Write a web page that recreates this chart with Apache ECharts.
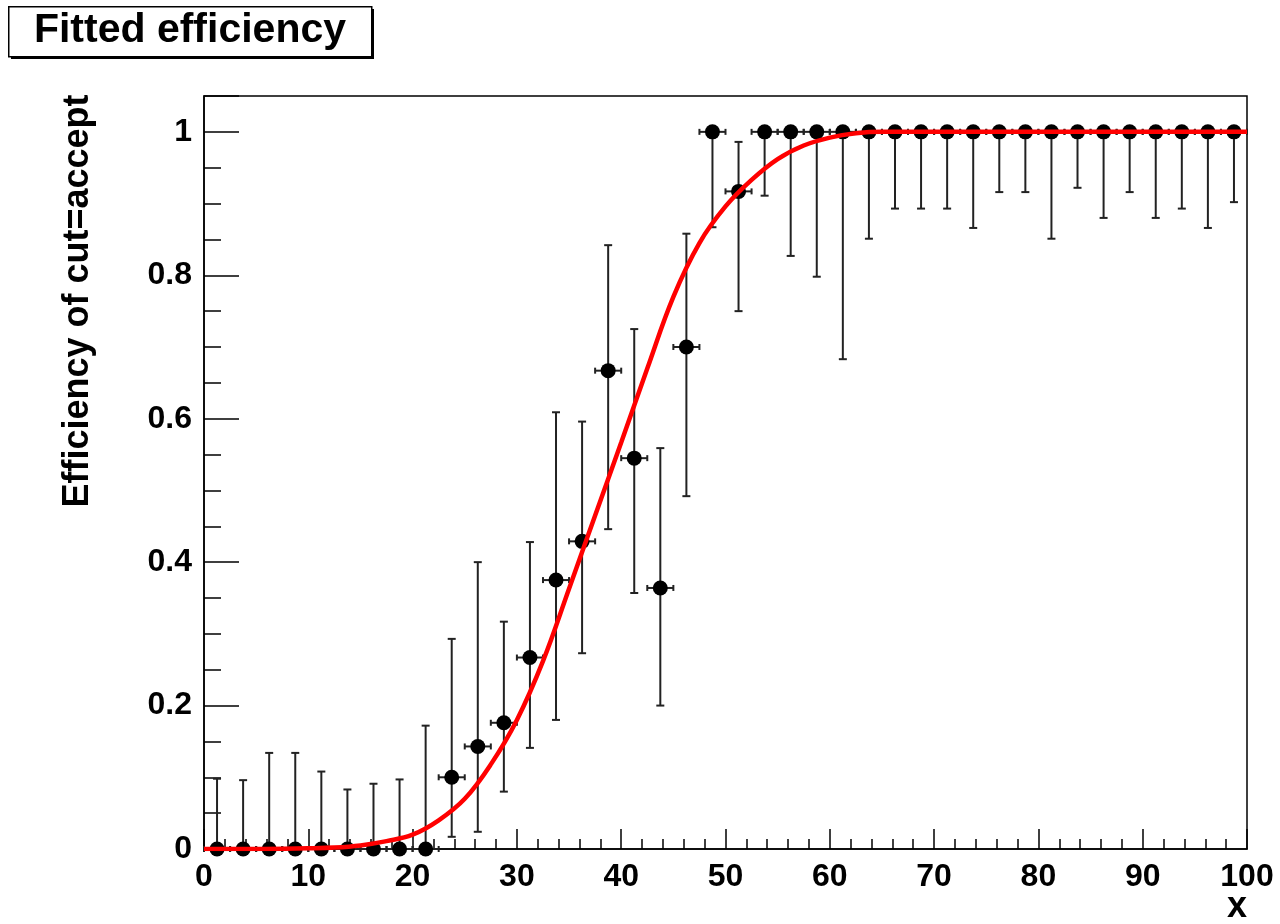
<!DOCTYPE html>
<html>
<head>
<meta charset="utf-8">
<script src="https://cdn.jsdelivr.net/npm/echarts@6/dist/echarts.min.js"></script>
<style>
  html, body { margin: 0; padding: 0; background: #fff; }
  #chart { width: 1280px; height: 924px; }
</style>
</head>
<body>
<div id="chart"></div>
<script>
// bin centres (40 bins of width 2.5 from 0 to 100)
const binCenters = [1.25, 3.75, 6.25, 8.75, 11.25, 13.75, 16.25, 18.75, 21.25, 23.75,
  26.25, 28.75, 31.25, 33.75, 36.25, 38.75, 41.25, 43.75, 46.25, 48.75,
  51.25, 53.75, 56.25, 58.75, 61.25, 63.75, 66.25, 68.75, 71.25, 73.75,
  76.25, 78.75, 81.25, 83.75, 86.25, 88.75, 91.25, 93.75, 96.25, 98.75];
const xErr = 1.25;
// measured efficiency per bin
const effValues = [0, 0, 0, 0, 0, 0, 0, 0, 0, 0.100,
  0.143, 0.176, 0.267, 0.375, 0.429, 0.667, 0.545, 0.364, 0.700, 1,
  0.917, 1, 1, 1, 1, 1, 1, 1, 1, 1,
  1, 1, 1, 1, 1, 1, 1, 1, 1, 1];
// lower / upper end of the error bar
const effLow = [0, 0, 0, 0, 0, 0, 0, 0, 0, 0.017,
  0.024, 0.080, 0.141, 0.180, 0.273, 0.446, 0.357, 0.200, 0.492, 0.867,
  0.750, 0.911, 0.827, 0.798, 0.683, 0.851, 0.893, 0.893, 0.893, 0.866,
  0.916, 0.916, 0.851, 0.922, 0.880, 0.916, 0.880, 0.893, 0.866, 0.902];
const effHigh = [0.098, 0.096, 0.134, 0.134, 0.108, 0.083, 0.091, 0.097, 0.172, 0.293,
  0.400, 0.317, 0.428, 0.609, 0.596, 0.842, 0.725, 0.559, 0.858, 1,
  0.986, 1, 1, 1, 1, 1, 1, 1, 1, 1,
  1, 1, 1, 1, 1, 1, 1, 1, 1, 1];
// fitted curve
const fitX = [0, 5, 10, 12.5, 15, 17.5, 20, 22.5, 25, 27.5, 30, 32.5, 35, 37.5, 40,
  42.5, 45, 47.5, 50, 52.5, 55, 57.5, 60, 62.5, 65, 70, 80, 90, 100];
const fitY = [0, 0, 0.001, 0.002, 0.005, 0.011, 0.020, 0.040, 0.070, 0.118, 0.180, 0.262, 0.363, 0.465, 0.567,
  0.670, 0.770, 0.845, 0.896, 0.933, 0.962, 0.981, 0.992, 0.998, 1, 1, 1, 1, 1];

const pointData = binCenters.map((x, i) => [x, effValues[i], effLow[i], effHigh[i]]);
const fitData = fitX.map((x, i) => [x, fitY[i]]);

const chart = echarts.init(document.getElementById('chart'));
const labelFont = { color: '#000', fontSize: 32, fontWeight: 'bold', fontFamily: 'Liberation Sans' };

const option = {
  animation: false,
  backgroundColor: '#fff',
  grid: { left: 204, right: 33, top: 96, bottom: 75, show: true, borderColor: '#000', borderWidth: 1.5 },
  xAxis: [{
    type: 'value', min: 0, max: 100, interval: 10, position: 'bottom',
    axisLine: { onZero: false, lineStyle: { color: '#000', width: 1.5 } },
    axisTick: { inside: true, length: 20, lineStyle: { color: '#000', width: 1.5 } },
    axisLabel: Object.assign({ margin: 12 }, labelFont),
    splitLine: { show: false }
  }, {
    type: 'value', min: 0, max: 100, interval: 2, position: 'bottom',
    axisLine: { show: false },
    axisTick: { inside: true, length: 10, lineStyle: { color: '#000', width: 1.5 } },
    axisLabel: { show: false },
    splitLine: { show: false }
  }],
  yAxis: [{
    type: 'value', min: 0, max: 1.05, interval: 0.2, position: 'left',
    axisLine: { show: true, onZero: false, lineStyle: { color: '#000', width: 1.5 } },
    axisTick: { show: true, inside: true, length: 35, lineStyle: { color: '#000', width: 1.5 } },
    axisLabel: Object.assign({
      margin: 12,
      formatter: v => v > 1.001 ? '' : String(+v.toFixed(1))
    }, labelFont),
    splitLine: { show: false }
  }, {
    type: 'value', min: 0, max: 1.05, interval: 0.05, position: 'left',
    axisLine: { show: false },
    axisTick: { show: true, inside: true, length: 17, lineStyle: { color: '#000', width: 1.5 } },
    axisLabel: { show: false },
    splitLine: { show: false }
  }],
  graphic: [
    // title box with drop shadow
    {
      type: 'rect', left: 11, top: 9, z: 10,
      shape: { width: 363, height: 50 },
      style: { fill: '#000' }
    },
    {
      type: 'rect', left: 8, top: 6, z: 11,
      shape: { width: 363, height: 50 },
      style: { fill: '#fff', stroke: '#000', lineWidth: 1.5 }
    },
    {
      type: 'text', x: 190, y: 31, z: 12,
      style: { text: 'Fitted efficiency', fill: '#000', font: 'bold 41px "Liberation Sans"', align: 'center', verticalAlign: 'middle' }
    },
    {
      type: 'text', x: 78, y: 301, rotation: Math.PI / 2, z: 11,
      style: { text: 'Efficiency of cut=accept', fill: '#000', font: 'bold 36px "Liberation Sans"', align: 'center', verticalAlign: 'middle' }
    },
    {
      type: 'text', x: 1237, y: 907, z: 11,
      style: { text: 'x', fill: '#000', font: 'bold 36px "Liberation Sans"', align: 'center', verticalAlign: 'middle' }
    }
  ],
  series: [
    {
      // error bars
      type: 'custom',
      xAxisIndex: 0, yAxisIndex: 0,
      data: pointData,
      z: 3,
      renderItem: function (params, api) {
        const x = api.value(0), y = api.value(1), lo = api.value(2), hi = api.value(3);
        const c = api.coord([x, y]);
        const pLo = api.coord([x, lo]);
        const pHi = api.coord([x, hi]);
        const pL = api.coord([x - xErr, y]);
        const pR = api.coord([x + xErr, y]);
        const st = { stroke: '#222', lineWidth: 2 };
        const kids = [];
        const cap = 4;
        kids.push({ type: 'line', shape: { x1: c[0], y1: pLo[1], x2: c[0], y2: pHi[1] }, style: st });
        if (Math.abs(pHi[1] - c[1]) > 1) kids.push({ type: 'line', shape: { x1: c[0] - cap, y1: pHi[1], x2: c[0] + cap, y2: pHi[1] }, style: st });
        if (Math.abs(pLo[1] - c[1]) > 1) kids.push({ type: 'line', shape: { x1: c[0] - cap, y1: pLo[1], x2: c[0] + cap, y2: pLo[1] }, style: st });
        kids.push({ type: 'line', shape: { x1: pL[0], y1: c[1], x2: pR[0], y2: c[1] }, style: st });
        kids.push({ type: 'line', shape: { x1: pL[0], y1: c[1] - 3, x2: pL[0], y2: c[1] + 3 }, style: st });
        kids.push({ type: 'line', shape: { x1: pR[0], y1: c[1] - 3, x2: pR[0], y2: c[1] + 3 }, style: st });
        return { type: 'group', children: kids };
      }
    },
    {
      type: 'scatter',
      xAxisIndex: 0, yAxisIndex: 0,
      data: pointData.map(d => [d[0], d[1]]),
      symbol: 'circle', symbolSize: 15,
      itemStyle: { color: '#000', opacity: 1 },
      z: 4
    },
    {
      type: 'line',
      xAxisIndex: 0, yAxisIndex: 0,
      data: fitData,
      smooth: 0.4,
      showSymbol: false,
      lineStyle: { color: '#ff0000', width: 4.5 },
      z: 5
    }
  ]
};
chart.setOption(option);
</script>
</body>
</html>
